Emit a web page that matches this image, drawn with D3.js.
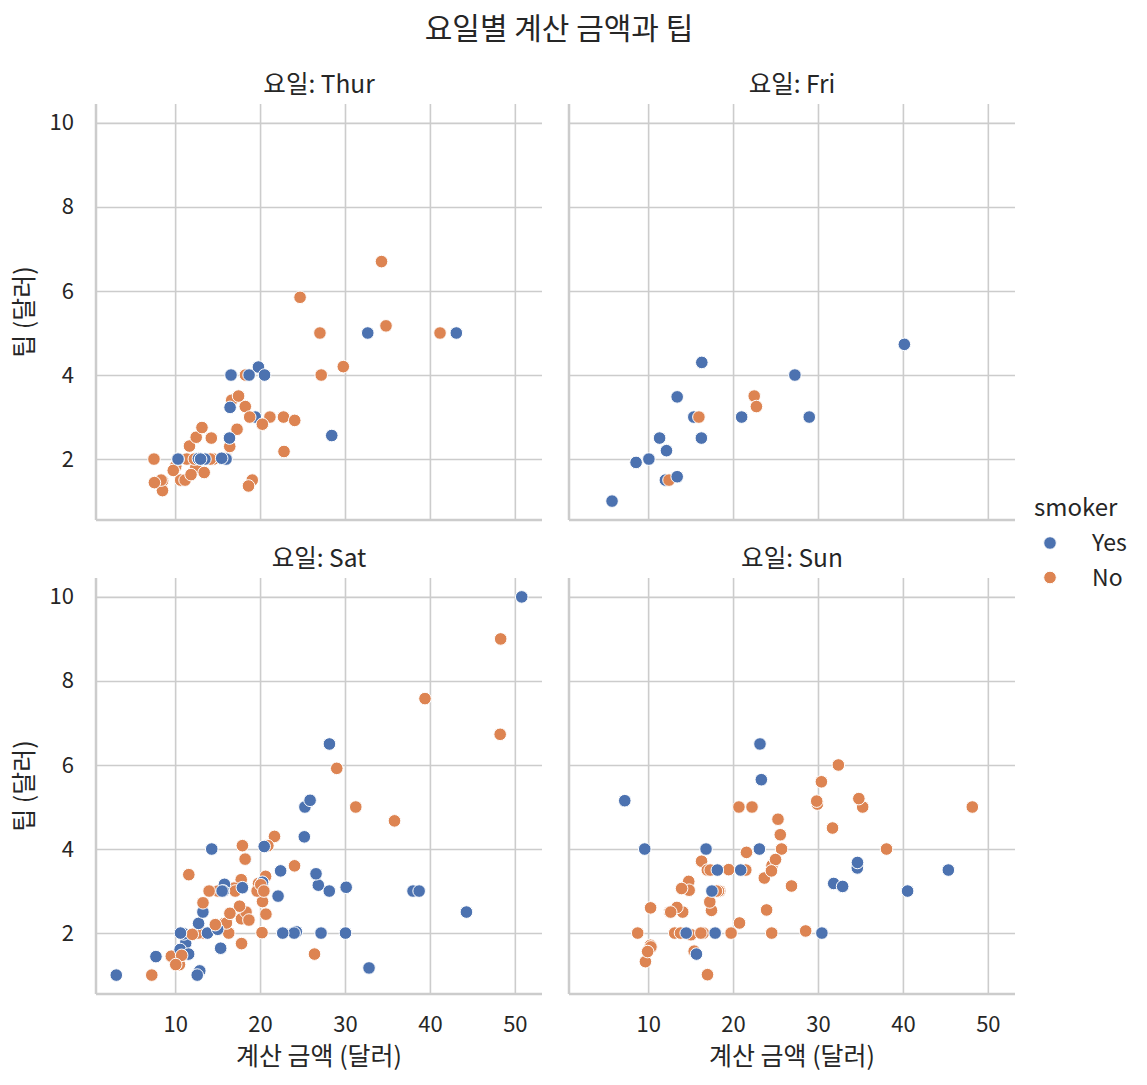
<!DOCTYPE html>
<html>
<head>
<meta charset="utf-8">
<script src="https://cdn.jsdelivr.net/npm/d3@7"></script>
<style>
  body { margin: 0; background: #fff; }
  svg text { font-family: "Noto Sans CJK KR", "Noto Sans", sans-serif; fill: #262626; }
</style>
</head>
<body>
<div id="chart"></div>
<script>
// tips data, split by day, in row order
const thurBill = [27.2, 22.76, 17.29, 19.44, 16.66, 10.07, 32.68, 15.98, 34.83, 13.03, 18.28, 24.71, 21.16,
  10.65, 12.43, 24.08, 11.69, 13.42, 14.26, 15.95, 12.48, 29.8, 8.52, 14.52, 11.38, 22.82, 19.08, 20.27, 11.17,
  12.26, 18.26, 8.51, 10.33, 14.15, 16.0, 13.16, 17.47, 34.3, 41.19, 27.05, 16.43, 8.35, 18.64, 11.87, 9.78, 7.51,
  19.81, 28.44, 15.48, 16.58, 7.56, 10.34, 43.11, 13.0, 13.51, 18.71, 12.74, 13.0, 16.4, 20.53, 16.47, 18.78];
const thurTip = [4.0, 3.0, 2.71, 3.0, 3.4, 1.83, 5.0, 2.03, 5.17, 2.0, 4.0, 5.85, 3.0,
  1.5, 1.8, 2.92, 2.31, 1.68, 2.5, 2.0, 2.52, 4.2, 1.48, 2.0, 2.0, 2.18, 1.5, 2.83, 1.5,
  2.0, 3.25, 1.25, 2.0, 2.0, 2.0, 2.75, 3.5, 6.7, 5.0, 5.0, 2.3, 1.5, 1.36, 1.63, 1.73, 2.0,
  4.19, 2.56, 2.02, 4.0, 1.44, 2.0, 5.0, 2.0, 2.0, 4.0, 2.01, 2.0, 2.5, 4.0, 3.23, 3.0];
const thurSmoker = ['No', 'No', 'No', 'Yes', 'No', 'No', 'Yes', 'No', 'No', 'No', 'No', 'No', 'No',
  'No', 'No', 'No', 'No', 'No', 'No', 'No', 'No', 'No', 'No', 'No', 'No', 'No', 'No', 'No', 'No',
  'No', 'No', 'No', 'No', 'No', 'Yes', 'No', 'No', 'No', 'No', 'No', 'No', 'No', 'No', 'No', 'No', 'No',
  'Yes', 'Yes', 'Yes', 'Yes', 'No', 'Yes', 'Yes', 'Yes', 'Yes', 'Yes', 'Yes', 'Yes', 'Yes', 'Yes', 'Yes', 'No'];

const friBill = [28.97, 22.49, 5.75, 16.32, 22.75, 40.17, 27.28, 12.03, 21.01, 12.46, 11.35, 15.38,
  12.16, 13.42, 8.58, 15.98, 13.42, 16.27, 10.09];
const friTip = [3.0, 3.5, 1.0, 4.3, 3.25, 4.73, 4.0, 1.5, 3.0, 1.5, 2.5, 3.0,
  2.2, 3.48, 1.92, 3.0, 1.58, 2.5, 2.0];
const friSmoker = ['Yes', 'No', 'Yes', 'Yes', 'No', 'Yes', 'Yes', 'Yes', 'Yes', 'No', 'Yes', 'Yes',
  'Yes', 'Yes', 'Yes', 'No', 'Yes', 'Yes', 'Yes'];

const satBill = [20.65, 17.92, 20.29, 15.77, 39.42, 19.82, 17.81, 13.37, 12.69, 21.7, 19.65, 9.55, 18.35, 15.06,
  20.69, 17.78, 24.06, 16.31, 16.93, 18.69, 31.27, 16.04,
  38.01, 26.41, 11.24, 48.27, 20.29, 13.81, 11.02, 18.29, 17.59, 20.08, 16.45, 3.07, 20.23, 15.01, 12.02, 17.07,
  26.86, 25.28, 14.73, 10.51, 17.92,
  44.3, 22.42, 20.92, 15.36, 20.49, 25.21, 18.24, 14.31, 14.0, 7.25,
  10.59, 10.63, 50.81, 15.81,
  26.59, 38.73, 24.27, 12.76, 30.06, 25.89, 48.33, 13.27, 28.17, 12.9, 28.15, 11.59, 7.74, 30.14,
  20.45, 13.28, 22.12, 24.01, 15.69, 11.61, 10.77, 15.53, 10.07, 12.6, 32.83, 35.83, 29.03, 27.18, 22.67, 17.82];
const satTip = [3.35, 4.08, 2.75, 2.23, 7.58, 3.18, 2.34, 2.0, 2.0, 4.3, 3.0, 1.45, 2.5, 3.0,
  2.45, 3.27, 3.6, 2.0, 3.07, 2.31, 5.0, 2.24,
  3.0, 1.5, 1.76, 6.73, 3.21, 2.0, 1.98, 3.76, 2.64, 3.15, 2.47, 1.0, 2.01, 2.09, 1.97, 3.0,
  3.14, 5.0, 2.2, 1.25, 3.08,
  2.5, 3.48, 4.08, 1.64, 4.06, 4.29, 3.76, 4.0, 3.0, 1.0,
  1.61, 2.0, 10.0, 3.16,
  3.41, 3.0, 2.03, 2.23, 2.0, 5.16, 9.0, 2.5, 6.5, 1.1, 3.0, 1.5, 1.44, 3.09,
  3.0, 2.72, 2.88, 2.0, 3.0, 3.39, 1.47, 3.0, 1.25, 1.0, 1.17, 4.67, 5.92, 2.0, 2.0, 1.75];
const satSmoker = ['No', 'No', 'No', 'No', 'No', 'No', 'No', 'No', 'No', 'No', 'No', 'No', 'No', 'No',
  'No', 'No', 'No', 'No', 'No', 'No', 'No', 'No',
  'Yes', 'No', 'Yes', 'No', 'Yes', 'Yes', 'Yes', 'Yes', 'No', 'No', 'No', 'Yes', 'No', 'Yes', 'No', 'No',
  'Yes', 'Yes', 'No', 'No', 'Yes',
  'Yes', 'Yes', 'No', 'Yes', 'Yes', 'Yes', 'No', 'Yes', 'No', 'No',
  'Yes', 'Yes', 'Yes', 'Yes',
  'Yes', 'Yes', 'Yes', 'Yes', 'Yes', 'Yes', 'No', 'Yes', 'Yes', 'Yes', 'Yes', 'Yes', 'Yes', 'Yes',
  'No', 'No', 'Yes', 'Yes', 'Yes', 'No', 'No', 'Yes', 'No', 'Yes', 'Yes', 'No', 'No', 'Yes', 'Yes', 'No'];

const sunBill = [16.99, 10.34, 21.01, 23.68, 24.59, 25.29, 8.77, 26.88, 15.04, 14.78, 10.27, 35.26, 15.42, 18.43,
  14.83, 21.58, 10.33, 16.29, 16.97,
  17.46, 13.94, 9.68, 30.4, 18.29, 22.23, 32.4, 28.55, 18.04, 12.54, 10.29, 34.81, 9.94, 25.56, 19.49,
  38.07, 23.95, 25.71, 17.31, 29.93,
  14.07, 13.13, 17.26, 24.55, 19.77, 29.85, 48.17, 25.0, 13.39, 16.49, 21.5, 12.66, 16.21, 13.81, 17.51, 24.52,
  20.76, 31.71,
  7.25, 31.85, 16.82, 32.9, 17.89, 14.48, 9.6, 34.63, 34.65, 23.33, 45.35, 23.17, 40.55, 20.69, 20.9, 30.46,
  18.15, 23.1, 15.69];
const sunTip = [1.01, 1.66, 3.5, 3.31, 3.61, 4.71, 2.0, 3.12, 1.96, 3.23, 1.71, 5.0, 1.57, 3.0,
  3.02, 3.92, 1.67, 3.71, 3.5,
  2.54, 3.06, 1.32, 5.6, 3.0, 5.0, 6.0, 2.05, 3.0, 2.5, 2.6, 5.2, 1.56, 4.34, 3.51,
  4.0, 2.55, 4.0, 3.5, 5.07,
  2.5, 2.0, 2.74, 2.0, 2.0, 5.14, 5.0, 3.75, 2.61, 2.0, 3.5, 2.5, 2.0, 2.0, 3.0, 3.48,
  2.24, 4.5,
  5.15, 3.18, 4.0, 3.11, 2.0, 2.0, 4.0, 3.55, 3.68, 5.65, 3.5, 6.5, 3.0, 5.0, 3.5, 2.0,
  3.5, 4.0, 1.5];
const sunSmoker = ['No', 'No', 'No', 'No', 'No', 'No', 'No', 'No', 'No', 'No', 'No', 'No', 'No', 'No',
  'No', 'No', 'No', 'No', 'No',
  'No', 'No', 'No', 'No', 'No', 'No', 'No', 'No', 'No', 'No', 'No', 'No', 'No', 'No', 'No',
  'No', 'No', 'No', 'No', 'No',
  'No', 'No', 'No', 'No', 'No', 'No', 'No', 'No', 'No', 'No', 'No', 'No', 'No', 'No', 'Yes', 'No',
  'No', 'No',
  'Yes', 'Yes', 'Yes', 'Yes', 'Yes', 'Yes', 'Yes', 'Yes', 'Yes', 'Yes', 'Yes', 'Yes', 'Yes', 'No', 'Yes', 'Yes',
  'Yes', 'Yes', 'Yes'];

const days = ['Thur', 'Fri', 'Sat', 'Sun'];
const smokerLevels = ['Yes', 'No'];
const xTicks = [10, 20, 30, 40, 50];
const yTicks = [2, 4, 6, 8, 10];

const panels = [
  { day: 'Thur', bill: thurBill, tip: thurTip, smoker: thurSmoker },
  { day: 'Fri', bill: friBill, tip: friTip, smoker: friSmoker },
  { day: 'Sat', bill: satBill, tip: satTip, smoker: satSmoker },
  { day: 'Sun', bill: sunBill, tip: sunTip, smoker: sunSmoker }
];

const W = 1147, H = 1085;
const pw = 446, ph = 416;
const lefts = [96, 569];
const tops = [104, 578];

const allBill = [].concat(thurBill, friBill, satBill, sunBill);
const allTip = [].concat(thurTip, friTip, satTip, sunTip);
const bx = d3.extent(allBill), by = d3.extent(allTip);
const mx = (bx[1] - bx[0]) * 0.05, my = (by[1] - by[0]) * 0.05;

const x = d3.scaleLinear().domain([bx[0] - mx, bx[1] + mx]).range([0, pw]);
const y = d3.scaleLinear().domain([by[0] - my, by[1] + my]).range([ph, 0]);
const color = d3.scaleOrdinal().domain(smokerLevels).range(['#4c72b0', '#dd8452']);

const svg = d3.create('svg')
  .attr('width', W)
  .attr('height', H);

svg.append('rect').attr('width', W).attr('height', H).attr('fill', '#fff');

svg.append('text')
  .attr('x', 559)
  .attr('y', 39)
  .attr('text-anchor', 'middle')
  .attr('font-size', 30)
  .text('요일별 계산 금액과 팁');

panels.forEach((p, i) => {
  const col = i % 2, row = Math.floor(i / 2);
  const g = svg.append('g')
    .attr('transform', `translate(${lefts[col]},${tops[row]})`);

  // grid
  const gx = g.append('g')
    .attr('transform', `translate(0,${ph})`)
    .call(d3.axisBottom(x).tickValues(xTicks).tickSize(-ph).tickPadding(22)
      .tickFormat(row === 1 ? d3.format('d') : ''));
  const gy = g.append('g')
    .call(d3.axisLeft(y).tickValues(yTicks).tickSize(-pw).tickPadding(22)
      .tickFormat(col === 0 ? d3.format('d') : ''));
  [gx, gy].forEach(a => {
    a.select('.domain').remove();
    a.selectAll('.tick line').attr('stroke', '#cccccc').attr('stroke-width', 1.6);
    a.selectAll('.tick text').attr('font-size', 22).attr('fill', '#262626')
      .style('font-family', '"Noto Sans CJK KR", "Noto Sans", sans-serif');
  });
  gx.selectAll('.tick text').attr('dy', '0.71em');

  // spines
  g.append('line').attr('x1', 0).attr('x2', 0).attr('y1', 0).attr('y2', ph)
    .attr('stroke', '#cccccc').attr('stroke-width', 2.5);
  g.append('line').attr('x1', 0).attr('x2', pw).attr('y1', ph).attr('y2', ph)
    .attr('stroke', '#cccccc').attr('stroke-width', 2.5);

  g.append('g')
    .selectAll('circle')
    .data(p.bill.map((b, k) => ({ b, t: p.tip[k], s: p.smoker[k] })))
    .enter()
    .append('circle')
      .attr('cx', d => x(d.b))
      .attr('cy', d => y(d.t))
      .attr('r', 6.3)
      .attr('fill', d => color(d.s))
      .attr('stroke', '#fff')
      .attr('stroke-width', 1);

  g.append('text')
    .attr('x', pw / 2)
    .attr('y', -11)
    .attr('text-anchor', 'middle')
    .attr('font-size', 24.5)
    .text('요일: ' + p.day);

  if (col === 0) {
    g.append('text')
      .attr('transform', `translate(-63,${ph / 2}) rotate(-90)`)
      .attr('text-anchor', 'middle')
      .attr('font-size', 25)
      .text('팁 (달러)');
  }
  if (row === 1) {
    g.append('text')
      .attr('x', pw / 2)
      .attr('y', ph + 71)
      .attr('text-anchor', 'middle')
      .attr('font-size', 25)
      .text('계산 금액 (달러)');
  }
});

// legend
const lg = svg.append('g').attr('transform', 'translate(1034,0)');
lg.append('text').attr('x', 0).attr('y', 516).attr('font-size', 24).text('smoker');
smokerLevels.forEach((s, k) => {
  const yy = 543 + k * 34.5;
  lg.append('circle').attr('cx', 16).attr('cy', yy).attr('r', 6.3).attr('fill', color(s))
    .attr('stroke', '#fff').attr('stroke-width', 1);
  lg.append('text').attr('x', 58).attr('y', yy + 8).attr('font-size', 23).text(s);
});

d3.select('#chart').node().appendChild(svg.node());
</script>
</body>
</html>
